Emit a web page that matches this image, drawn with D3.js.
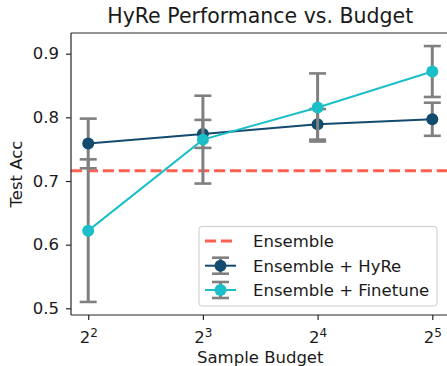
<!DOCTYPE html>
<meta charset="utf-8">
<style>
body { margin: 0; background: #fff; }
svg text { font-family: 'DejaVu Sans', sans-serif; fill: #1a1a1a; }
.axis path, .axis line { stroke: #262626; stroke-width: 1.2px; }
</style>
<html>
  <body>
    <svg width="447" height="366"></svg>
  </body>
</html>
<script src="https://d3js.org/d3.v7.min.js"></script>
<script>

// values
var budgets = [4, 8, 16, 32];
var hyreMean = [0.759, 0.774, 0.789, 0.797];
var hyreErr = [0.039, 0.022, 0.024, 0.026];
var finetuneMean = [0.622, 0.765, 0.8155, 0.872];
var finetuneErr = [0.112, 0.069, 0.0535, 0.040];
var ensembleAcc = 0.716;
var yTicks = [0.5, 0.6, 0.7, 0.8, 0.9];
var legendLabels = ["Ensemble", "Ensemble + HyRe", "Ensemble + Finetune"];

(function() {
  var svg = d3.select("svg");

  var left = 71, right = 449.5, top = 33, bottom = 315;
  var fs = "16.5px";

  var x = d3.scaleLog().base(2)
      .domain([Math.pow(2, 1.85), Math.pow(2, 5.15)])
      .range([left, right]);

  var y = d3.scaleLinear()
      .domain([0.4895, 0.9325])
      .range([bottom, top]);

  var colors = { ensemble: "#ff6150", hyre: "#134b6e", finetune: "#1cbfc7", err: "#808080" };

  // ensemble baseline
  svg.append("line")
      .attr("x1", left).attr("x2", right)
      .attr("y1", y(ensembleAcc)).attr("y2", y(ensembleAcc))
      .attr("stroke", colors.ensemble)
      .attr("stroke-width", 3)
      .attr("stroke-dasharray", "11.1,4.8");

  function drawSeries(means, errs, color) {
    var pts = budgets.map(function(b, i) { return { b: b, m: means[i], e: errs[i] }; });
    var g = svg.append("g");

    var eb = g.selectAll("g.eb").data(pts).enter().append("g")
        .attr("stroke", colors.err)
        .attr("stroke-width", 3);
    eb.append("line")
        .attr("x1", function(d) { return x(d.b); })
        .attr("x2", function(d) { return x(d.b); })
        .attr("y1", function(d) { return y(d.m - d.e); })
        .attr("y2", function(d) { return y(d.m + d.e); });
    [-1, 1].forEach(function(s) {
      eb.append("line")
          .attr("stroke-width", 2.6)
          .attr("x1", function(d) { return x(d.b) - 8.5; })
          .attr("x2", function(d) { return x(d.b) + 8.5; })
          .attr("y1", function(d) { return y(d.m + s * d.e); })
          .attr("y2", function(d) { return y(d.m + s * d.e); });
    });

    g.append("path")
        .datum(pts)
        .attr("fill", "none")
        .attr("stroke", color)
        .attr("stroke-width", 2)
        .attr("d", d3.line()
            .x(function(d) { return x(d.b); })
            .y(function(d) { return y(d.m); }));

    g.selectAll("circle").data(pts).enter().append("circle")
        .attr("cx", function(d) { return x(d.b); })
        .attr("cy", function(d) { return y(d.m); })
        .attr("r", 6)
        .attr("fill", color);
  }

  drawSeries(hyreMean, hyreErr, colors.hyre);
  drawSeries(finetuneMean, finetuneErr, colors.finetune);

  // axes
  var yAxis = svg.append("g")
      .attr("class", "axis")
      .attr("transform", "translate(" + left + ",0)")
      .call(d3.axisLeft(y).tickValues(yTicks).tickSize(5).tickPadding(7).tickFormat(d3.format(".1f")));
  yAxis.selectAll("text").style("font-size", fs);

  var xAxis = svg.append("g")
      .attr("class", "axis")
      .attr("transform", "translate(0," + bottom + ")")
      .call(d3.axisBottom(x).tickValues(budgets).tickSize(5).tickPadding(7).tickFormat(""));
  xAxis.selectAll(".tick text")
      .style("font-size", fs)
      .attr("dy", "0.95em")
      .each(function(d) {
        var t = d3.select(this);
        t.append("tspan").text("2");
        t.append("tspan").attr("dy", "-0.45em").style("font-size", "12px")
            .text(Math.round(Math.log2(d)));
      });

  // hide the right spine and draw the top one
  xAxis.select(".domain").attr("d", "M" + left + ",0H" + right);
  yAxis.select(".domain").attr("d", "M0," + top + "V" + bottom);
  svg.append("line")
      .attr("x1", left).attr("x2", right)
      .attr("y1", top).attr("y2", top)
      .attr("stroke", "#262626").attr("stroke-width", 1.2);

  svg.append("text")
      .attr("x", (left + right) / 2).attr("y", 23)
      .attr("text-anchor", "middle")
      .style("font-size", "20.5px")
      .text("HyRe Performance vs. Budget");

  svg.append("text")
      .attr("x", (left + right) / 2).attr("y", 363)
      .attr("text-anchor", "middle")
      .style("font-size", fs)
      .text("Sample Budget");

  svg.append("text")
      .attr("transform", "translate(22," + (top + bottom) / 2 + ") rotate(-90)")
      .attr("text-anchor", "middle")
      .style("font-size", fs)
      .text("Test Acc");

  // legend
  var lg = svg.append("g");
  lg.append("rect")
      .attr("x", 199).attr("y", 226.5)
      .attr("width", 238).attr("height", 79.5)
      .attr("rx", 3)
      .attr("fill", "#fff").attr("fill-opacity", 0.8)
      .attr("stroke", "#cccccc").attr("stroke-width", 1);

  var rows = [241, 265.7, 290];
  var hx0 = 205, hx1 = 236, hc = (hx0 + hx1) / 2;

  lg.append("line")
      .attr("x1", hx0).attr("x2", hx1)
      .attr("y1", rows[0]).attr("y2", rows[0])
      .attr("stroke", colors.ensemble).attr("stroke-width", 3)
      .attr("stroke-dasharray", "11.1,4.8");

  [[rows[1], colors.hyre], [rows[2], colors.finetune]].forEach(function(r) {
    var ry = r[0];
    lg.append("line").attr("x1", hc).attr("x2", hc).attr("y1", ry - 8).attr("y2", ry + 8)
        .attr("stroke", colors.err).attr("stroke-width", 3);
    [-8, 8].forEach(function(o) {
      lg.append("line").attr("x1", hc - 8.5).attr("x2", hc + 8.5).attr("y1", ry + o).attr("y2", ry + o)
          .attr("stroke", colors.err).attr("stroke-width", 2.6);
    });
    lg.append("line").attr("x1", hx0).attr("x2", hx1).attr("y1", ry).attr("y2", ry)
        .attr("stroke", r[1]).attr("stroke-width", 2);
    lg.append("circle").attr("cx", hc).attr("cy", ry).attr("r", 6).attr("fill", r[1]);
  });

  lg.selectAll("text.lab").data(legendLabels).enter().append("text")
      .attr("x", 253)
      .attr("y", function(d, i) { return rows[i]; })
      .attr("dy", "0.36em")
      .style("font-size", fs)
      .text(function(d) { return d; });
})();

</script>
